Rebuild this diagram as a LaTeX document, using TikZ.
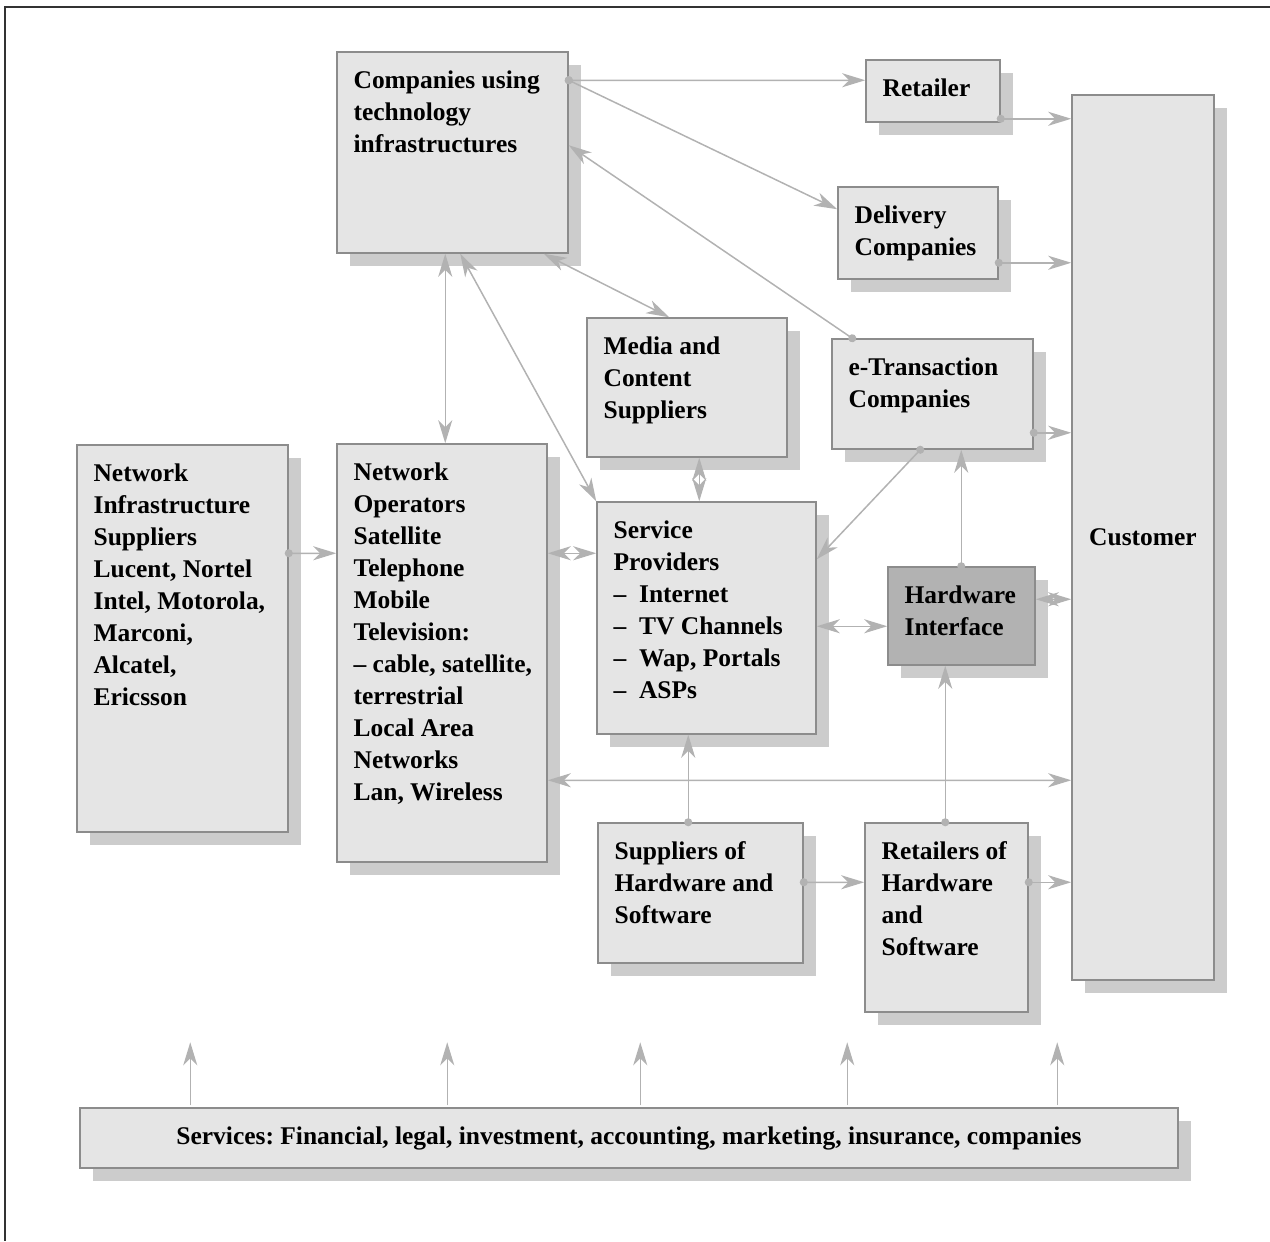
\documentclass[tikz,border=0pt]{standalone}
\usepackage{fontspec}
\setmainfont{Liberation Serif}
\usetikzlibrary{arrows.meta,calc,fit,shadows}
\frenchspacing

\begin{document}
\begin{tikzpicture}[x=0.2mm,y=-0.2mm,font=\fontsize{14.5}{18.2}\selectfont\bfseries,
    >={Stealth[length=4.6mm,width=2.8mm,inset=1.4mm]}]
      \tikzstyle{box}=[draw=black!45,line width=0.3mm,fill=black!10,inner sep=0pt,
        drop shadow={shadow xshift=2.6mm,shadow yshift=-2.6mm,opacity=1,fill=black!20}]
      \tikzstyle{txt}=[anchor=north west,inner sep=0pt,align=left,
        xshift=3.4mm,yshift=-3.8mm]
      \tikzstyle{mid}=[anchor=center,inner sep=0pt]

      \useasboundingbox (0,0) rectangle (1270,1241);
      \draw[line width=0.4mm,black!80] (1270,7) -- (5,7) -- (5,1241);

      \node[box,fit={(337,52) (568,253)},
        label={[txt]north west:{Companies using\\technology\\infrastructures}}] (CT) {};
      \node[box,fit={(866,60) (1000,122)},
        label={[txt]north west:{Retailer}}] (RT) {};
      \node[box,fit={(838,187) (998,279)},
        label={[txt]north west:{Delivery\\Companies}}] (DC) {};
      \node[box,fit={(832,339) (1033,449)},
        label={[txt]north west:{e-Transaction\\Companies}}] (ET) {};
      \node[box,fit={(1072,95) (1214,980)},
        label={[mid]center:{Customer}}] (CU) {};
      \node[box,fit={(587,318) (787,457)},
        label={[txt]north west:{Media and\\Content\\Suppliers}}] (MC) {};
      \node[box,fit={(77,445) (288,832)},
        label={[txt]north west:{Network\\Infrastructure\\Suppliers\\Lucent, Nortel\\
          Intel, Motorola,\\Marconi,\\Alcatel,\\Ericsson}}] (NIS) {};
      \node[box,fit={(337,444) (547,862)},
        label={[txt]north west:{Network\\Operators\\Satellite\\Telephone\\Mobile\\
          Television:\\-- cable, satellite,\\terrestrial\\Local Area\\Networks\\
          Lan, Wireless}}] (NO) {};
      \node[box,fit={(597,502) (816,734)},
        label={[txt]north west:{Service\\Providers\\--\enspace Internet\\
          --\enspace TV Channels\\--\enspace Wap, Portals\\--\enspace ASPs}}] (SP) {};
      \node[box,fill=black!30,fit={(888,567) (1035,665)},
        label={[txt]north west:{Hardware\\Interface}}] (HI) {};
      \node[box,fit={(598,823) (803,963)},
        label={[txt]north west:{Suppliers of\\Hardware and\\Software}}] (SHS) {};
      \node[box,fit={(865,823) (1028,1012)},
        label={[txt]north west:{Retailers of\\Hardware\\and\\Software}}] (RHS) {};
      \node[box,fit={(80,1108) (1178,1168)},
        label={[mid]center:{Services: Financial, legal, investment, accounting,
          marketing, insurance, companies}}] (SV) {};

      \tikzstyle{ar}=[->,draw=black!30,line width=0.3mm]
      \tikzstyle{dar}=[<->,draw=black!30,line width=0.3mm]
      \tikzstyle{dot}=[{Circle[length=1.6mm]}->,shorten <=-0.8mm,draw=black!30,
        fill=black!30,line width=0.3mm]

      \draw[dot] ($(CT.north east)+(0,29)$) -- ($(RT.north west)+(0,21)$);
      \draw[dot] ($(CT.north east)+(0,29)$) -- ($(DC.north west)+(0,23)$);
      \draw[dot] ($(ET.north west)+(21,0)$) -- ($(CT.north east)+(0,94)$);
      \draw[dar] ($(CT.south west)+(109,0)$) -- ($(NO.north west)+(109,0)$);
      \draw[dar] ($(CT.south west)+(124,0)$) -- (SP.north west);
      \draw[dar] ($(CT.south east)+(-25,0)$) -- ($(MC.north west)+(83,0)$);
      \draw[dar] ($(MC.south west)+(113,0)$) -- ($(SP.north west)+(103,0)$);

      \draw[dot] ($(RT.south east)+(0,-4)$) -- ($(CU.north west)+(0,24.5)$);
      \draw[dot] ($(DC.south east)+(0,-17)$) -- ($(CU.north west)+(0,168.5)$);
      \draw[dot] ($(ET.south east)+(0,-17)$) -- ($(CU.north west)+(0,338.5)$);
      \draw[dot] ($(ET.south west)+(89,0)$) -- ($(SP.north east)+(0,58)$);
      \draw[dot] ($(HI.north west)+(74,0)$) -- ($(ET.south west)+(130,0)$);
      \draw[dar] ($(HI.north east)+(0,33)$) -- ($(CU.north west)+(0,505)$);
      \draw[dar] ($(SP.north east)+(0,125)$) -- ($(HI.north west)+(0,60)$);

      \draw[dot] ($(NIS.north east)+(0,109)$) -- ($(NO.north west)+(0,110)$);
      \draw[dar] ($(NO.north east)+(0,110)$) -- ($(SP.north west)+(0,52)$);
      \draw[dar] ($(NO.north east)+(0,337)$) -- ($(CU.north west)+(0,686)$);

      \draw[dot] ($(SHS.north west)+(91,0)$) -- ($(SP.south west)+(92,0)$);
      \draw[dot] ($(RHS.north west)+(81,0)$) -- ($(HI.south west)+(58,0)$);
      \draw[dot] ($(SHS.north east)+(0,60)$) -- ($(RHS.north west)+(0,60)$);
      \draw[dot] ($(RHS.north east)+(0,60)$) -- ($(CU.north west)+(0,788)$);

      \foreach \x in {111,368,561,768,978}
        \draw[ar] ($(SV.north west)+(\x,-2)$) -- ++(0,-63);

\end{tikzpicture}
\end{document}
